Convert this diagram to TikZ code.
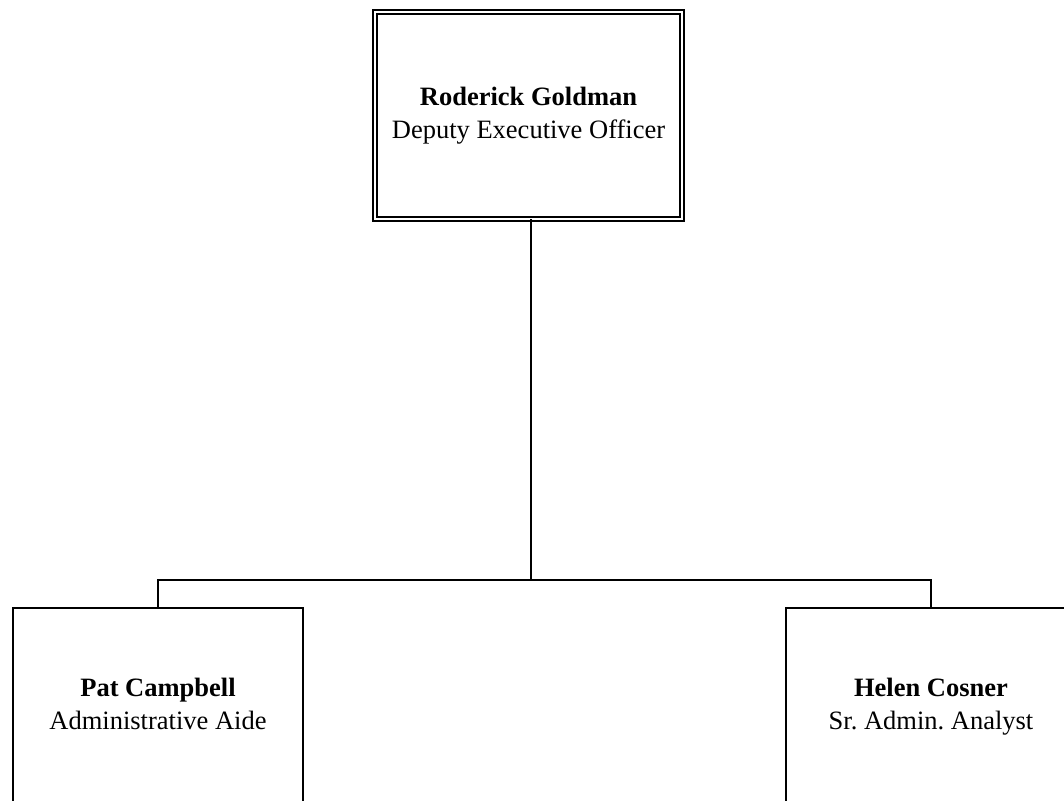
\documentclass[tikz,border=0pt]{standalone}
\usepackage{fontspec}
\setmainfont{Liberation Serif}
\frenchspacing
\begin{document}
\begin{tikzpicture}[x=1pt,y=-1pt,
  topbox/.style={draw, line width=1.6pt, double, double distance=2.4pt,
    minimum width=307.5pt, minimum height=207.5pt, inner sep=0pt, outer sep=0pt,
    align=center, font=\fontsize{26.5}{33}\selectfont},
  subbox/.style={draw, line width=1.6pt, minimum width=290pt, minimum height=196pt,
    inner sep=0pt, outer sep=0pt, align=center, font=\fontsize{26.5}{33}\selectfont},
  link/.style={line width=1.6pt}]
\clip (0,0) rectangle (1064,800);
\fill[white] (0,0) rectangle (1064,800);
\node[topbox] (top) at (528.5,115.5) {\strut\textbf{Roderick Goldman}\\\strut Deputy Executive Officer};
\node[subbox] (pat) at (158,706) {\strut\textbf{Pat Campbell}\\\strut Administrative Aide};
\node[subbox] (helen) at (931,706) {\strut\textbf{Helen Cosner}\\\strut Sr. Admin. Analyst};
\coordinate (bus) at (531,580);
\draw[link] (top.south -| bus) -- (bus);
\draw[link] (pat.north) |- (bus) -| (helen.north);
\end{tikzpicture}
\end{document}
